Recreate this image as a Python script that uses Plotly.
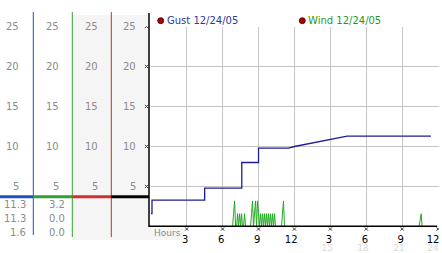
import plotly.graph_objects as go

W, H = 442, 253

# ---------------- data ----------------
gust_hours = [0.0, 0.1, 0.1, 4.5, 4.5, 7.6, 7.6, 9.0, 9.0, 11.5, 12.0, 16.4, 23.4]
gust_vals  = [1.6, 1.6, 3.3, 3.3, 4.8, 4.8, 8.0, 8.0, 9.8, 9.8, 10.0, 11.3, 11.3]

# wind samples, index = 5-minute slot of the day
wind_slot = [0, 82, 83, 84, 85, 86, 87, 88, 89, 90, 91, 92, 93, 94, 95, 100, 101, 102, 103, 104,
             105, 106, 107, 108, 109, 110, 111, 112, 113, 114, 115, 116, 117, 118, 119, 120,
             121, 122, 123, 124, 125, 131, 132, 133, 134, 269, 270, 271, 272, 288]
wind_vals = [0, 0, 1.6, 3.2, 0, 0, 1.6, 0, 1.6, 0, 1.6, 0, 0, 1.6, 0, 0, 1.6, 3.2, 0, 1.6,
             3.2, 0, 3.2, 1.6, 0, 1.6, 0, 1.6, 0, 1.6, 0, 1.6, 0, 1.6, 0, 1.6,
             0, 1.6, 0, 1.6, 0, 0, 1.6, 3.2, 0, 0, 0.8, 1.6, 0, 0]
wind_hours = [s / 12 for s in wind_slot]

x_ticks = [3, 6, 9, 12, 15, 18, 21, 24]
x_tick_text = ["3", "6", "9", "12", "3", "6", "9", "12"]
x_tick_text_24 = ["15", "18", "21", "24"]
y_ticks = [5, 10, 15, 20, 25]

gust_label = "Gust 12/24/05"
wind_label = "Wind 12/24/05"
gust_stats = ["11.3", "11.3", "1.6"]
wind_stats = ["3.2", "0.0", "0.0"]

# ---------------- layout helpers ----------------
def PX(x):
    return x / W

def PY(y):
    return 1 - y / H

XMAX = 24.05
PPH = 11.97                # px per hour
X0 = 150.8                 # px of hour 0
X1 = X0 + XMAX * PPH       # px of right end of range
Y0, Y1 = 226.5, 26.5       # px of value 0 / 25
PPU = (Y0 - Y1) / 25       # px per unit

# the original draws labels slightly left of their tick (more for two digits,
# and the last one is kept inside the picture)
def label_pos(t, txt):
    shift = 0.12 if len(txt) == 1 else 0.27
    if t == x_ticks[-1]:
        shift = 0.42
    return t - shift

lab1_pos = [label_pos(t, s) for t, s in zip(x_ticks, x_tick_text)]
lab2_pos = [label_pos(t, s) for t, s in zip(x_ticks[4:], x_tick_text_24)]

FONT = "DejaVu Sans"
GRAY = "#8c8c8c"
BLUE = "#1c1c98"
GREEN = "#22a822"

fig = go.Figure()

fig.add_trace(go.Scatter(x=wind_hours, y=wind_vals, mode="lines",
                         line=dict(color=GREEN, width=1), hoverinfo="skip"))
fig.add_trace(go.Scatter(x=gust_hours, y=gust_vals, mode="lines",
                         line=dict(color=BLUE, width=1.3), hoverinfo="skip"))
# invisible traces for the label axes
fig.add_trace(go.Scatter(x=[15, 21], y=[1, 1], xaxis="x2", mode="markers",
                         marker=dict(opacity=0, size=1), hoverinfo="skip"))
fig.add_trace(go.Scatter(x=[3, 21], y=[1, 1], xaxis="x3", mode="markers",
                         marker=dict(opacity=0, size=1), hoverinfo="skip"))

shapes = []
# light gray panels
shapes.append(dict(type="rect", xref="paper", yref="paper", x0=PX(72.3), x1=PX(149),
                   y0=PY(240), y1=PY(15), fillcolor="#f5f5f5", line=dict(width=0), layer="below"))
shapes.append(dict(type="rect", xref="paper", yref="paper", x0=PX(149), x1=PX(184),
                   y0=PY(240), y1=PY(227.5), fillcolor="#f5f5f5", line=dict(width=0), layer="below"))
# column separators
for xp, col, yb in [(33.3, "#2050c0", 235), (72.3, "#30a030", 237), (111.3, "#c03030", 237)]:
    shapes.append(dict(type="line", xref="paper", yref="paper", x0=PX(xp), x1=PX(xp),
                       y0=PY(12), y1=PY(yb), line=dict(color=col, width=1)))
# thick colored current-value line
for xa, xb, col in [(0, 33.3, "#2050c0"), (33.3, 72.3, "#30a030"),
                    (72.3, 111.3, "#d03030"), (111.3, 149, "#000000")]:
    shapes.append(dict(type="line", xref="paper", yref="paper", x0=PX(xa), x1=PX(xb),
                       y0=PY(196.8), y1=PY(196.8), line=dict(color=col, width=3)))
# axis lines
shapes.append(dict(type="line", xref="paper", yref="paper", x0=PX(149), x1=PX(149),
                   y0=PY(13), y1=PY(227), line=dict(color="black", width=1.5)))
shapes.append(dict(type="line", xref="paper", yref="paper", x0=PX(149), x1=PX(437),
                   y0=PY(226.3), y1=PY(226.3), line=dict(color="black", width=1.5)))
# legend dots
for cx in [160.7, 302.3]:
    shapes.append(dict(type="circle", xref="paper", yref="paper",
                       x0=PX(cx - 3), x1=PX(cx + 3), y0=PY(20.7 + 3), y1=PY(20.7 - 3),
                       fillcolor="#b00000", line=dict(color="#300000", width=0.8)))
# small x-shaped tick glyphs (two short strokes each)
G = 1.6
GLYPH = dict(color="#3a3a3a", width=1)
for v in y_ticks:
    for s in (1, -1):
        shapes.append(dict(type="line", xref="paper", yref="y",
                           x0=PX(146.5 - G), x1=PX(146.5 + G),
                           y0=v - s * G / PPU, y1=v + s * G / PPU, line=GLYPH))
for t in x_ticks:
    for s in (1, -1):
        shapes.append(dict(type="line", xref="x", yref="paper",
                           x0=t - G / PPH, x1=t + G / PPH,
                           y0=PY(229 - s * G), y1=PY(229 + s * G), line=GLYPH))

ann = []
# left panel y numbers (four columns)
for xr in [20.5, 60.5, 99.5, 138]:
    for v in y_ticks:
        ann.append(dict(x=PX(xr), xref="paper", y=v, yref="y", text=str(v),
                        showarrow=False, xanchor="right", yanchor="middle",
                        font=dict(family=FONT, size=10, color=GRAY)))
# stats rows
for i, yp in enumerate([204.3, 218.3, 232.3]):
    ann.append(dict(x=PX(27.5), xref="paper", y=PY(yp), yref="paper", text=gust_stats[i],
                    showarrow=False, xanchor="right", yanchor="middle",
                    font=dict(family=FONT, size=10, color=GRAY)))
    ann.append(dict(x=PX(66.5), xref="paper", y=PY(yp), yref="paper", text=wind_stats[i],
                    showarrow=False, xanchor="right", yanchor="middle",
                    font=dict(family=FONT, size=10, color=GRAY)))
# legend labels
ann.append(dict(x=PX(165), xref="paper", y=PY(20.5), yref="paper", text=gust_label,
                showarrow=False, xanchor="left", yanchor="middle",
                font=dict(family=FONT, size=10, color="#2a3aa0")))
ann.append(dict(x=PX(306), xref="paper", y=PY(20.5), yref="paper", text=wind_label,
                showarrow=False, xanchor="left", yanchor="middle",
                font=dict(family=FONT, size=10, color="#1e9a1e")))
ann.append(dict(x=PX(152), xref="paper", y=PY(232.5), yref="paper", text="Hours",
                showarrow=False, xanchor="left", yanchor="middle",
                font=dict(family=FONT, size=9, color=GRAY)))

common = dict(domain=[PX(X0), PX(X1)], range=[0, XMAX], zeroline=False, showline=False,
              ticks="", fixedrange=True)
fig.update_layout(
    width=W, height=H, margin=dict(l=0, r=0, t=0, b=0),
    paper_bgcolor="white", plot_bgcolor="rgba(0,0,0,0)",
    showlegend=False, shapes=shapes, annotations=ann,
    xaxis=dict(**common, tickvals=x_ticks, showticklabels=False,
               showgrid=True, gridcolor="#c4c4c4", gridwidth=1),
    xaxis3=dict(**common, overlaying="x", anchor="y", side="bottom",
                tickvals=lab1_pos, ticktext=x_tick_text, showgrid=False,
                ticklabelstandoff=5, tickfont=dict(family=FONT, size=10, color="black")),
    xaxis2=dict(**common, overlaying="x", anchor="free", position=PY(240.5), side="bottom",
                tickvals=lab2_pos, ticktext=x_tick_text_24, showgrid=False,
                tickfont=dict(family=FONT, size=9, color="#d8d8d8"), ticklabelstandoff=0),
    yaxis=dict(domain=[PY(Y0), PY(Y1)], range=[0, 25], tickvals=y_ticks, showticklabels=False,
               showgrid=True, gridcolor="#c4c4c4", gridwidth=1, zeroline=False, showline=False,
               ticks="", fixedrange=True),
)

fig.write_html(
    "out.html",
    post_script=("document.documentElement.style.overflow='hidden';"
                 "document.body.style.overflow='hidden';document.body.style.margin='0';"),
)
